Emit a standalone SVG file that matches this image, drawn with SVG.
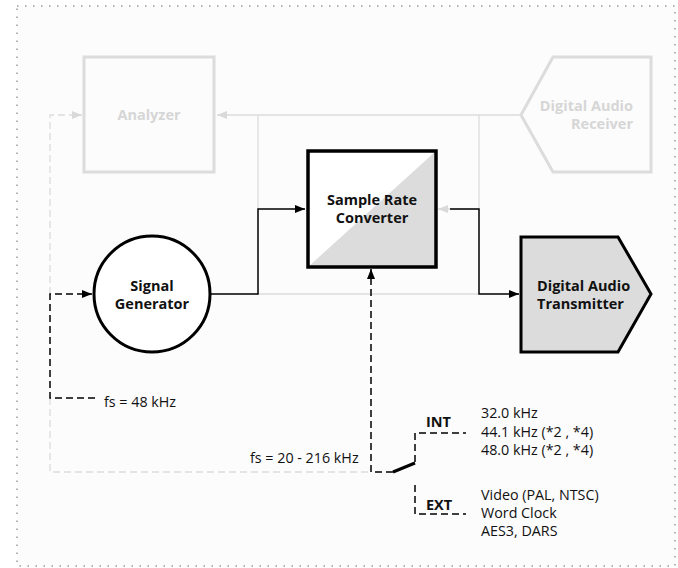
<svg xmlns="http://www.w3.org/2000/svg" width="678" height="568" viewBox="0 0 678 568">
<defs>
<marker id="ab" markerWidth="10" markerHeight="8" refX="10" refY="4" orient="auto" markerUnits="userSpaceOnUse"><path d="M0,0 L10,4 L0,8 Z" fill="#000"/></marker>
<marker id="ag" markerWidth="10" markerHeight="8" refX="10" refY="4" orient="auto" markerUnits="userSpaceOnUse"><path d="M0,0 L10,4 L0,8 Z" fill="#d9d9d9"/></marker>
<style>
text{font-family:"Open Sans","Noto Sans","Liberation Sans",sans-serif;font-size:14.3px;fill:#111}
.b{font-weight:bold;font-size:14.5px}
.g{fill:#d6d6d6}
.gl{fill:none;stroke:#dcdcdc;stroke-width:1.3}
.gd{fill:none;stroke:#dcdcdc;stroke-width:1.3;stroke-dasharray:7 4}
.bl{fill:none;stroke:#000;stroke-width:1.5}
.bd{fill:none;stroke:#000;stroke-width:1.5;stroke-dasharray:7 4}
</style>
</defs>
<rect x="17" y="6" width="658" height="560" fill="#fcfcfc" stroke="#9a9a9a" stroke-width="1.5" stroke-dasharray="1.5 6.5"/>
<g id="connectors">
<path class="gl" d="M521,115 H217" marker-end="url(#ag)"/>
<path class="gl" d="M258,115 V209"/>
<path class="gl" d="M479,115 V209 H438" marker-end="url(#ag)"/>
<path class="gl" d="M258,294 H479"/>
<path class="gd" d="M50,294 V115 H82" marker-end="url(#ag)"/>
<path class="gd" d="M50,398 V472 H368"/>
<path class="bl" d="M210,294 H258 V209 H305" marker-end="url(#ab)"/>
<path class="bl" d="M450,209 H479 V294 H519" marker-end="url(#ab)"/>
<path class="bd" d="M95,398 H50 V294 H92" marker-end="url(#ab)"/>
<path class="bd" d="M393,472 H371 V269" marker-end="url(#ab)"/>
<path d="M393,472 L415,463" stroke="#000" stroke-width="3" fill="none"/>
<path class="bd" d="M415,462 V433 H466"/>
<path class="bd" d="M415,485 V514 H466"/>
</g>
<g id="analyzer">
<rect x="84" y="57" width="130" height="115" fill="none" stroke="#dcdcdc" stroke-width="3"/>
<text x="149" y="120" text-anchor="middle" class="b g">Analyzer</text>
</g>
<g id="receiver">
<path d="M521,115 L553,57 H651 V172 H553 Z" fill="none" stroke="#dcdcdc" stroke-width="3"/>
<text x="633" y="111" text-anchor="end" class="b g">Digital Audio</text>
<text x="633" y="129" text-anchor="end" class="b g">Receiver</text>
</g>
<g id="src">
<rect x="308" y="151" width="128" height="116" fill="#fff"/>
<path d="M308,267 L436,151 V267 Z" fill="#dcdcdc"/>
<rect x="308" y="151" width="128" height="116" fill="none" stroke="#000" stroke-width="3.5"/>
<text x="372" y="205" text-anchor="middle" class="b">Sample Rate</text>
<text x="372" y="223" text-anchor="middle" class="b">Converter</text>
</g>
<g id="generator">
<circle cx="152" cy="294" r="58" fill="#fff" stroke="#000" stroke-width="3"/>
<text x="152" y="291" text-anchor="middle" class="b">Signal</text>
<text x="152" y="309" text-anchor="middle" class="b">Generator</text>
</g>
<g id="transmitter">
<path d="M521,237 H618 L651,294 L618,352 H521 Z" fill="#dcdcdc" stroke="#000" stroke-width="3"/>
<text x="537" y="291" class="b">Digital Audio</text>
<text x="537" y="309" class="b">Transmitter</text>
</g>
<g id="labels">
<text x="104" y="407">fs = 48 kHz</text>
<text x="250" y="463">fs = 20 - 216 kHz</text>
<text x="426" y="427" class="b">INT</text>
<text x="426" y="510" class="b">EXT</text>
<text x="481" y="418">32.0 kHz</text>
<text x="481" y="437">44.1 kHz (*2 , *4)</text>
<text x="481" y="455">48.0 kHz (*2 , *4)</text>
<text x="481" y="500">Video (PAL, NTSC)</text>
<text x="481" y="518">Word Clock</text>
<text x="481" y="536">AES3, DARS</text>
</g>
</svg>
